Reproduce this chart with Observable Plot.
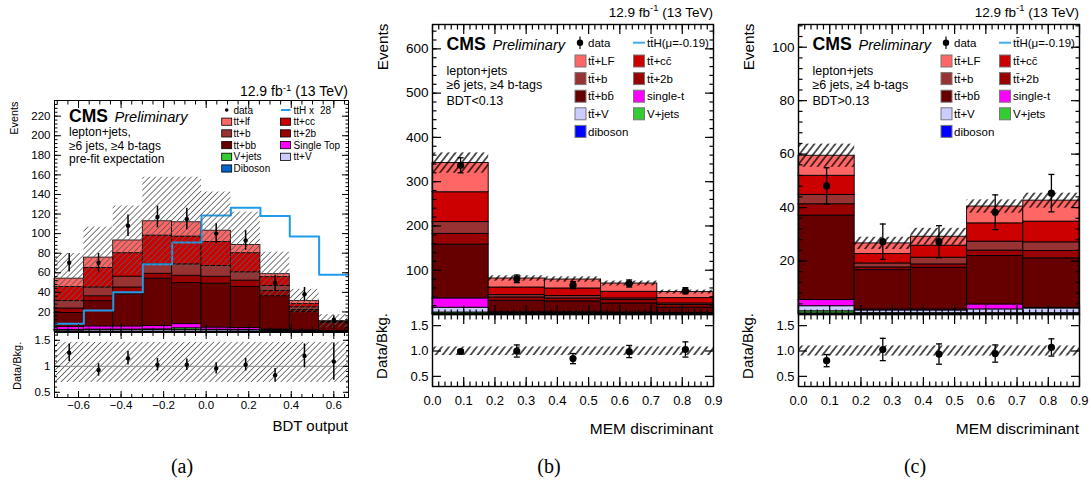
<!DOCTYPE html>
<html><head><meta charset="utf-8">
<script src="https://cdn.jsdelivr.net/npm/d3@7"></script>
<script src="https://cdn.jsdelivr.net/npm/@observablehq/plot@0.6"></script>
<style>
html,body{margin:0;padding:0;background:#fff;}
#fig{position:relative;width:1092px;height:485px;overflow:hidden;background:#fff;}
#fig svg{position:absolute;}
</style></head><body>
<div id="fig"></div>
<svg width="0" height="0" style="position:absolute;left:0;top:0">
<defs>
<pattern id="hatchA" patternUnits="userSpaceOnUse" width="4.2" height="4.2" patternTransform="rotate(45)"><line x1="2.1" y1="0" x2="2.1" y2="4.2" stroke="#5a5a5a" stroke-width="0.8"/></pattern>
<pattern id="hatchB" patternUnits="userSpaceOnUse" width="5.5" height="5.5" patternTransform="rotate(38)"><line x1="2.75" y1="0" x2="2.75" y2="5.5" stroke="#000" stroke-width="1.3"/></pattern>
</defs></svg>
<script>
// ---------------- Panel (a): BDT output ----------------
const edgesA = [-0.713, -0.575, -0.437, -0.298, -0.160, -0.022, 0.116, 0.255, 0.393, 0.531, 0.669];
const compsA = ["tt+V", "Diboson", "V+jets", "Single Top", "tt+bb", "tt+2b", "tt+b", "tt+cc", "tt+lf"];
const colorsA = ["#ccccff", "#0066cc", "#33cc33", "#ff00ff", "#660000", "#990000", "#993333", "#cc0000", "#ff6666"];
const ttV_A   = [1.2, 1.4, 1.4, 1.5, 1.6, 1.4, 1.3, 0.9, 0.6, 0.3];
const dib_A   = [0.1, 0.1, 0.1, 0.1, 0.1, 0.1, 0.1, 0.05, 0.05, 0.0];
const vjets_A = [0.4, 0.5, 0.5, 0.6, 1.6, 0.3, 0.3, 0.2, 0.1, 0.1];
const stop_A  = [2.8, 3.2, 3.2, 3.3, 4.2, 2.2, 1.8, 0.9, 0.5, 0.2];
const ttbb_A  = [14.5, 25.8, 32.8, 48.5, 42, 45, 42, 34, 19.1, 8.6];
const tt2b_A  = [4.5, 5, 7, 5, 7.5, 7, 6.5, 5.3, 1.7, 0.4];
const ttb_A   = [7.5, 9, 11, 10, 11.6, 11, 8.5, 5.2, 2.7, 0.3];
const ttcc_A  = [14.5, 20, 24, 29, 28.4, 24.5, 19.5, 9, 3.3, 0.3];
const ttlf_A  = [8.5, 10.5, 13, 14.6, 14.6, 11.5, 8.4, 3, 3, 0.3];
const uncA    = [25.7, 31.2, 35.2, 45, 46, 39.5, 33.6, 22.5, 12, 6.8];
const tthA    = [8, 21.5, 40, 68.6, 91, 118.5, 126.5, 118, 97, 58];
const dataA   = [70.3, 70.3, 108, 117, 115, 100, 93, 49.5, 38, 12];
const dataErrA= [9.5, 9.5, 11, 11, 11, 10, 10, 8, 7, 4];
const ratioA  = [1.26, 0.93, 1.155, 1.03, 1.03, 0.96, 1.03, 0.83, 1.2, 1.09];
const ratioErrA = [0.17, 0.12, 0.13, 0.12, 0.11, 0.11, 0.12, 0.13, 0.23, 0.36];
const bandLoA = [0.69, 0.69, 0.69, 0.69, 0.69, 0.69, 0.69, 0.69, 0.69, 0.69];
const bandHiA = [1.46, 1.46, 1.46, 1.46, 1.46, 1.46, 1.46, 1.46, 1.46, 1.46];
const yTicksA = [20, 40, 60, 80, 100, 120, 140, 160, 180, 200, 220];
const xTicksA = [-0.6, -0.4, -0.2, 0, 0.2, 0.4, 0.6];
const rTicksA = [0.5, 1, 1.5];
const rLabelsA = ["0.5", "1", "1.5"];

// ---------------- Panels (b),(c): MEM discriminant ----------------
const edgesBC = [0, 0.18, 0.36, 0.54, 0.72, 0.9];
const compsBC = ["diboson", "V+jets", "tt̄+V", "single-t", "tt̄+bb̄", "tt̄+2b", "tt̄+b", "tt̄+cc̄", "tt̄+LF"];
const colorsBC = ["#0000ff", "#33cc33", "#ccccff", "#ff00ff", "#660000", "#990000", "#993333", "#cc0000", "#ff6666"];
// (b) BDT<0.13
const dib_B   = [1.5, 0.4, 0.4, 0.3, 0.2];
const vjets_B = [3.0, 0.6, 0.6, 0.5, 0.3];
const ttV_B   = [10.8, 2.0, 2.0, 1.8, 1.5];
const stop_B  = [21, 2.0, 2.0, 1.9, 1.5];
const ttbb_B  = [121.5, 26, 24.6, 20.5, 11.9];
const tt2b_B  = [24.3, 7.6, 6.7, 7.6, 5.9];
const ttb_B   = [26.6, 5.2, 5.3, 3.7, 3.7];
const ttcc_B  = [67.4, 17.2, 17.2, 15, 12];
const ttlf_B  = [66, 20.3, 20.2, 18.7, 13.6];
const uncB    = [23, 6, 6, 5.5, 4.5];
const dataB   = [337, 80.5, 66.3, 70, 53.6];
const dataErrB= [17, 8.6, 8, 8, 7];
const ratioB  = [0.99, 1.0, 0.85, 0.99, 1.03];
const ratioErrB = [0.04, 0.12, 0.1, 0.12, 0.15];
const bandLoB = [0.91, 0.91, 0.91, 0.91, 0.91];
const bandHiB = [1.08, 1.08, 1.08, 1.08, 1.08];
// (c) BDT>0.13
const dib_C   = [0.4, 0.2, 0.2, 0.2, 0.2];
const vjets_C = [0.8, 0.3, 0.3, 0.3, 0.3];
const ttV_C   = [1.9, 1.0, 1.0, 1.4, 1.75];
const stop_C  = [2.3, 0.4, 0.4, 1.85, 0.25];
const ttbb_C  = [31.6, 14.7, 15.6, 18.15, 18.5];
const tt2b_C  = [4.25, 1, 1.25, 2, 2.75];
const ttb_C   = [3.5, 1.5, 2.5, 3.35, 3.25];
const ttcc_C  = [7.15, 3.5, 4.5, 6.85, 7.75];
const ttlf_C  = [7.5, 4, 3.35, 6.3, 7.85];
const uncC    = [4.35, 2.3, 3.15, 2.5, 2.8];
const dataC   = [48.1, 27.25, 27.25, 38.25, 45.4];
const dataErrC= [6.8, 6.6, 6, 6.5, 7];
const ratioC  = [0.81, 1.03, 0.94, 0.95, 1.07];
const ratioErrC = [0.12, 0.22, 0.2, 0.17, 0.17];
const bandLoC = [0.9, 0.9, 0.9, 0.9, 0.9];
const bandHiC = [1.1, 1.1, 1.1, 1.1, 1.1];
const yTicksB = [100, 200, 300, 400, 500, 600];
const yTicksC = [20, 40, 60, 80, 100];
const xTicksBC = [0, 0.1, 0.2, 0.3, 0.4, 0.5, 0.6, 0.7, 0.8, 0.9];
const xLabelsBC = ["0.0", "0.1", "0.2", "0.3", "0.4", "0.5", "0.6", "0.7", "0.8", "0.9"];
const rTicksBC = [0.5, 1.0, 1.5];
const rLabelsBC = ["0.5", "1.0", "1.5"];

// ---------------- helpers ----------------
const FONT = '"Liberation Sans", Arial, Helvetica, sans-serif';
const fig = document.getElementById("fig");
const stackRows = (edges, comps, stack) => comps.flatMap((c, j) => stack[j].map((v, i) => ({x1: edges[i], x2: edges[i + 1], comp: c, v})));
const totalsOf = (stack) => stack[0].map((_, i) => d3.sum(stack, s => s[i]));
const bandRows = (edges, lo, hi) => lo.map((l, i) => ({x1: edges[i], x2: edges[i + 1], lo: l, hi: hi[i]}));
const pointRows = (edges, v, e) => v.map((y, i) => ({xc: (edges[i] + edges[i + 1]) / 2, y, lo: y - e[i], hi: y + e[i]}));
const capSymbol = {draw(ctx, size) { const r = Math.sqrt(size / Math.PI); ctx.moveTo(-r, 0); ctx.lineTo(r, 0); }};

function panel(frame, m, opts) {
  const W = frame.r - frame.l + m.l + m.r, H = frame.b - frame.t + m.t + m.b;
  const svg = Plot.plot({width: W, height: H, marginLeft: m.l, marginRight: m.r, marginTop: m.t, marginBottom: m.b,
    style: {fontFamily: FONT, background: "transparent", overflow: "visible", color: "black"}, ...opts});
  svg.style.position = "absolute"; svg.style.left = (frame.l - m.l) + "px"; svg.style.top = (frame.t - m.t) + "px";
  svg.style.background = "transparent";
  fig.appendChild(svg);
  return svg;
}
// inward-pointing ROOT-style ticks on all four frame sides:
// Plot's own axis ticks, shifted back across the frame edge by their own length
function frameTicks({xMajor, xMinor, yMajor, yMinor, major, minor, sw}) {
  const marks = [], blank = () => "";
  const common = {tickFormat: blank, label: null, stroke: "#000", strokeWidth: sw};
  const xa = (vals, len) => {
    marks.push(Plot.axisX({anchor: "bottom", ticks: vals, tickSize: len, dy: -len, ...common}));
    marks.push(Plot.axisX({anchor: "top", ticks: vals, tickSize: len, dy: len, ...common}));
  };
  const ya = (vals, len) => {
    marks.push(Plot.axisY({anchor: "left", ticks: vals, tickSize: len, dx: len, ...common}));
    marks.push(Plot.axisY({anchor: "right", ticks: vals, tickSize: len, dx: -len, ...common}));
  };
  if (xMajor) xa(xMajor, major);
  if (xMinor) xa(xMinor, minor);
  if (yMajor) ya(yMajor, major);
  if (yMinor) ya(yMinor, minor);
  return marks;
}
const labelsFor = (ticks, labels) => d => labels[ticks.findIndex(t => Math.abs(t - d) < 1e-9)];

// ---------------- draw panel (a) ----------------
const stackA = [ttV_A, dib_A, vjets_A, stop_A, ttbb_A, tt2b_A, ttb_A, ttcc_A, ttlf_A];
const totA = totalsOf(stackA);
const stepA = tthA.flatMap((v, i) => [{x: edgesA[i], y: v}, {x: edgesA[i + 1], y: v}]);
const xDomA = [edgesA[0], edgesA[edgesA.length - 1]];
const xMinorA = d3.range(-0.7, 0.67, 0.05);
const fA = {l: 54, t: 100, r: 348, b: 331}, fAr = {l: 54, t: 332, r: 348, b: 397};
const yDomA = [0, 236], rDomA = [0.4, 1.65];
panel(fA, {l: 45, r: 10, t: 5, b: 2}, {
  x: {domain: xDomA}, y: {domain: yDomA},
  color: {domain: compsA, range: colorsA},
  marks: [
    Plot.rectY(stackRows(edgesA, compsA, stackA), {x1: "x1", x2: "x2", y: "v", fill: "comp", z: "comp", order: compsA, stroke: "black", strokeWidth: 0.8}),
    Plot.line(stepA, {x: "x", y: "y", stroke: "#1f9bea", strokeWidth: 2}),
    Plot.rectY(bandRows(edgesA, totA.map((t, i) => t - uncA[i]), totA.map((t, i) => t + uncA[i])), {x1: "x1", x2: "x2", y1: "lo", y2: "hi", fill: "url(#hatchA)"}),
    Plot.ruleX(pointRows(edgesA, dataA, dataErrA), {x: "xc", y1: "lo", y2: "hi", stroke: "black", strokeWidth: 1.5}),
    Plot.dot(pointRows(edgesA, dataA, dataErrA), {x: "xc", y: "y", r: 2.2, fill: "black"}),
    Plot.axisY({anchor: "left", ticks: yTicksA, tickSize: 0, tickPadding: 4, fontSize: 11.5, label: null}),
    ...frameTicks({xMajor: xTicksA, xMinor: xMinorA, yMajor: yTicksA, yMinor: d3.range(4, 236, 4), major: 7, minor: 3.5, sw: 1}),
    Plot.frame({stroke: "black", strokeWidth: 1})
  ]
});
panel(fAr, {l: 45, r: 10, t: 2, b: 20}, {
  x: {domain: xDomA}, y: {domain: rDomA},
  marks: [
    Plot.rectY(bandRows(edgesA, bandLoA, bandHiA), {x1: "x1", x2: "x2", y1: "lo", y2: "hi", fill: "url(#hatchA)"}),
    Plot.ruleY([1], {stroke: "#8a8a8a", strokeWidth: 1}),
    Plot.ruleX(pointRows(edgesA, ratioA, ratioErrA), {x: "xc", y1: "lo", y2: "hi", stroke: "black", strokeWidth: 1.5}),
    Plot.dot(pointRows(edgesA, ratioA, ratioErrA), {x: "xc", y: "y", r: 2.2, fill: "black"}),
    Plot.axisY({anchor: "left", ticks: rTicksA, tickSize: 0, tickPadding: 4, fontSize: 11.5, tickFormat: labelsFor(rTicksA, rLabelsA), label: null}),
    Plot.axisX({anchor: "bottom", ticks: xTicksA, tickSize: 0, tickPadding: 3, fontSize: 11.5, label: null}),
    ...frameTicks({xMajor: xTicksA, xMinor: xMinorA, yMajor: rTicksA, yMinor: d3.range(0.5, 1.65, 0.1), major: 6, minor: 3, sw: 1}),
    Plot.frame({stroke: "black", strokeWidth: 1})
  ]
});

// ---------------- draw panels (b),(c) ----------------
const xMinorBC = d3.range(0.02, 0.9, 0.02);
const xDomBC = [0, 0.9], rDomBC = [0.3, 1.72];
function memPanel(dx, stack, unc, data, dataErr, ratio, ratioErr, bandLo, bandHi, yDom, yTicks, yMinorStep) {
  const tot = totalsOf(stack);
  const pts = pointRows(edgesBC, data, dataErr);
  const rpts = pointRows(edgesBC, ratio, ratioErr);
  const fM = {l: 432 + dx, t: 24, r: 713 + dx, b: 314}, fR = {l: 432 + dx, t: 314, r: 713 + dx, b: 386};
  panel(fM, {l: 50, r: 10, t: 5, b: 2}, {
    x: {domain: xDomBC}, y: {domain: yDom},
    color: {domain: compsBC, range: colorsBC},
    marks: [
      Plot.rectY(stackRows(edgesBC, compsBC, stack), {x1: "x1", x2: "x2", y: "v", fill: "comp", z: "comp", order: compsBC, stroke: "black", strokeWidth: 0.9}),
      Plot.rectY(bandRows(edgesBC, tot.map((t, i) => t - unc[i]), tot.map((t, i) => t + unc[i])), {x1: "x1", x2: "x2", y1: "lo", y2: "hi", fill: "url(#hatchB)"}),
      Plot.ruleX(pts, {x: "xc", y1: "lo", y2: "hi", stroke: "black", strokeWidth: 1.3}),
      Plot.dot(pts, {x: "xc", y: "lo", symbol: capSymbol, r: 3, stroke: "black", strokeWidth: 1.3}),
      Plot.dot(pts, {x: "xc", y: "hi", symbol: capSymbol, r: 3, stroke: "black", strokeWidth: 1.3}),
      Plot.dot(pts, {x: "xc", y: "y", r: 3.6, fill: "black"}),
      Plot.axisY({anchor: "left", ticks: yTicks, tickSize: 0, tickPadding: 4, fontSize: 13.5, label: null}),
      ...frameTicks({xMajor: xTicksBC, xMinor: xMinorBC, yMajor: yTicks, yMinor: d3.range(yMinorStep, yDom[1], yMinorStep), major: 9, minor: 4.5, sw: 1.2}),
      Plot.frame({stroke: "black", strokeWidth: 1.4})
    ]
  });
  panel(fR, {l: 50, r: 10, t: 2, b: 25}, {
    x: {domain: xDomBC}, y: {domain: rDomBC},
    marks: [
      Plot.rectY(bandRows(edgesBC, bandLo, bandHi), {x1: "x1", x2: "x2", y1: "lo", y2: "hi", fill: "url(#hatchB)"}),
      Plot.ruleX(rpts, {x: "xc", y1: "lo", y2: "hi", stroke: "black", strokeWidth: 1.3}),
      Plot.dot(rpts, {x: "xc", y: "lo", symbol: capSymbol, r: 3, stroke: "black", strokeWidth: 1.3}),
      Plot.dot(rpts, {x: "xc", y: "hi", symbol: capSymbol, r: 3, stroke: "black", strokeWidth: 1.3}),
      Plot.dot(rpts, {x: "xc", y: "y", r: 3.6, fill: "black"}),
      Plot.axisY({anchor: "left", ticks: rTicksBC, tickSize: 0, tickPadding: 4, fontSize: 13, tickFormat: labelsFor(rTicksBC, rLabelsBC), label: null}),
      Plot.axisX({anchor: "bottom", ticks: xTicksBC, tickSize: 0, tickPadding: 9, fontSize: 13, tickFormat: labelsFor(xTicksBC, xLabelsBC), label: null}),
      ...frameTicks({xMajor: xTicksBC, xMinor: xMinorBC, yMajor: rTicksBC, yMinor: null, major: 9, minor: 4.5, sw: 1.2}),
      Plot.frame({stroke: "black", strokeWidth: 1.4})
    ]
  });
}
memPanel(0, [dib_B, vjets_B, ttV_B, stop_B, ttbb_B, tt2b_B, ttb_B, ttcc_B, ttlf_B], uncB, dataB, dataErrB, ratioB, ratioErrB, bandLoB, bandHiB, [0, 655], yTicksB, 20);
memPanel(366, [dib_C, vjets_C, ttV_C, stop_C, ttbb_C, tt2b_C, ttb_C, ttcc_C, ttlf_C], uncC, dataC, dataErrC, ratioC, ratioErrC, bandLoC, bandHiC, [0, 108.5], yTicksC, 4);

// ---------------- text & legends overlay ----------------
const ov = d3.create("svg").attr("width", 1092).attr("height", 485).style("left", "0px").style("top", "0px").style("pointer-events", "none").style("background", "none");
function T(x, y, s, o = {}) {
  const t = ov.append("text").attr("x", x).attr("y", y).attr("font-family", o.family || FONT)
    .attr("font-size", o.size || 12).attr("text-anchor", o.anchor || "start").attr("fill", "black");
  if (o.weight) t.attr("font-weight", o.weight);
  if (o.italic) t.attr("font-style", "italic");
  if (o.rotate) t.attr("transform", `rotate(-90 ${x} ${y})`);
  if (o.html) t.html(s); else t.text(s);
  return t;
}
const lumi = (x, y, size) => T(x, y, `12.9 fb<tspan dy="${-size * 0.38}" font-size="${size * 0.7}">-1</tspan><tspan dy="${size * 0.38}"> (13 TeV)</tspan>`, {size, anchor: "end", html: true});

// panel (a) texts
lumi(348, 96, 14);
T(69, 121.5, "CMS", {size: 17.5, weight: "bold"});
T(114.5, 121.5, "Preliminary", {size: 14.6, italic: true});
T(69, 136, "lepton+jets,", {size: 12});
T(69, 149.5, "≥6 jets, ≥4 b-tags", {size: 12});
T(69, 163, "pre-fit expectation", {size: 12});
T(18.3, 101.7, "Events", {size: 10.8, anchor: "end", rotate: true});
T(21.2, 341.7, "Data/Bkg.", {size: 11, anchor: "end", rotate: true});
T(348, 431, "BDT output", {size: 15, anchor: "end"});
T(182, 473, "(a)", {size: 20, anchor: "middle", family: '"Liberation Serif", "Times New Roman", serif'});
// legend (a)
const legA1 = ["data", "tt+lf", "tt+b", "tt+bb", "V+jets", "Diboson"];
const legA2 = ["ttH x", "tt+cc", "tt+2b", "Single Top", "tt+V"];
legA1.forEach((name, i) => {
  const y = 110 + 11.7 * i;
  if (name === "data") ov.append("circle").attr("cx", 226.7).attr("cy", y).attr("r", 1.8).attr("fill", "black");
  else ov.append("rect").attr("x", 221.7).attr("y", y - 3.6).attr("width", 10).attr("height", 7.2).attr("fill", colorsA[compsA.indexOf(name)]).attr("stroke", "black").attr("stroke-width", 0.8);
  T(233.5, y + 3.5, name, {size: 10});
});
legA2.forEach((name, i) => {
  const y = 110 + 11.7 * i;
  if (name === "ttH x") { ov.append("line").attr("x1", 281).attr("x2", 290.5).attr("y1", y).attr("y2", y).attr("stroke", "#1f9bea").attr("stroke-width", 2); T(320, y + 3.5, "28", {size: 10}); }
  else ov.append("rect").attr("x", 280.5).attr("y", y - 3.6).attr("width", 10).attr("height", 7.2).attr("fill", colorsA[compsA.indexOf(name)]).attr("stroke", "black").attr("stroke-width", 0.8);
  T(293.5, y + 3.5, name, {size: 10});
});

// panels (b),(c) texts
const regionText = ["BDT<0.13", "BDT>0.13"];
const captions = ["(b)", "(c)"];
[0, 366].forEach((dx, k) => {
  lumi(713 + dx, 16.5, 13.5);
  T(446.5 + dx, 49.5, "CMS", {size: 17.7, weight: "bold"});
  T(492.5 + dx, 49.5, "Preliminary", {size: 14.5, italic: true});
  T(446.5 + dx, 74.5, "lepton+jets", {size: 12.5});
  T(446.5 + dx, 89, "≥6 jets, ≥4 b-tags", {size: 12.5});
  T(446.5 + dx, 104.5, regionText[k], {size: 12.5});
  T(388 + dx, 23.5, "Events", {size: 15.3, anchor: "end", rotate: true});
  T(387 + dx, 313, "Data/Bkg.", {size: 15, anchor: "end", rotate: true});
  T(713 + dx, 434, "MEM discriminant", {size: 15.5, anchor: "end"});
  T(549 + dx, 473, captions[k], {size: 20, anchor: "middle", family: '"Liberation Serif", "Times New Roman", serif'});
  // legend header row
  ov.append("line").attr("x1", 580 + dx).attr("x2", 580 + dx).attr("y1", 36.5).attr("y2", 49).attr("stroke", "black").attr("stroke-width", 1.2);
  ov.append("circle").attr("cx", 580 + dx).attr("cy", 42.7).attr("r", 3.2).attr("fill", "black");
  T(588 + dx, 46.7, "data", {size: 11.5});
  ov.append("line").attr("x1", 633 + dx).attr("x2", 645 + dx).attr("y1", 42.7).attr("y2", 42.7).attr("stroke", "#3fa9f5").attr("stroke-width", 2);
  T(647 + dx, 46.7, "tt̄H(μ=-0.19)", {size: 11.5});
  const col1 = ["tt̄+LF", "tt̄+b", "tt̄+bb̄", "tt̄+V", "diboson"];
  const col2 = ["tt̄+cc̄", "tt̄+2b", "single-t", "V+jets"];
  col1.forEach((name, i) => {
    const y = 61 + 17.6 * i;
    ov.append("rect").attr("x", 575 + dx).attr("y", y - 6).attr("width", 11).attr("height", 12).attr("fill", colorsBC[compsBC.indexOf(name)]).attr("stroke", "#777").attr("stroke-width", 1);
    T(588 + dx, y + 4.2, name, {size: 11.5});
  });
  col2.forEach((name, i) => {
    const y = 61 + 17.6 * i;
    ov.append("rect").attr("x", 633.5 + dx).attr("y", y - 6).attr("width", 11).attr("height", 12).attr("fill", colorsBC[compsBC.indexOf(name)]).attr("stroke", "#777").attr("stroke-width", 1);
    T(647 + dx, y + 4.2, name, {size: 11.5});
  });
});
fig.appendChild(ov.node());
</script>
</body></html>
